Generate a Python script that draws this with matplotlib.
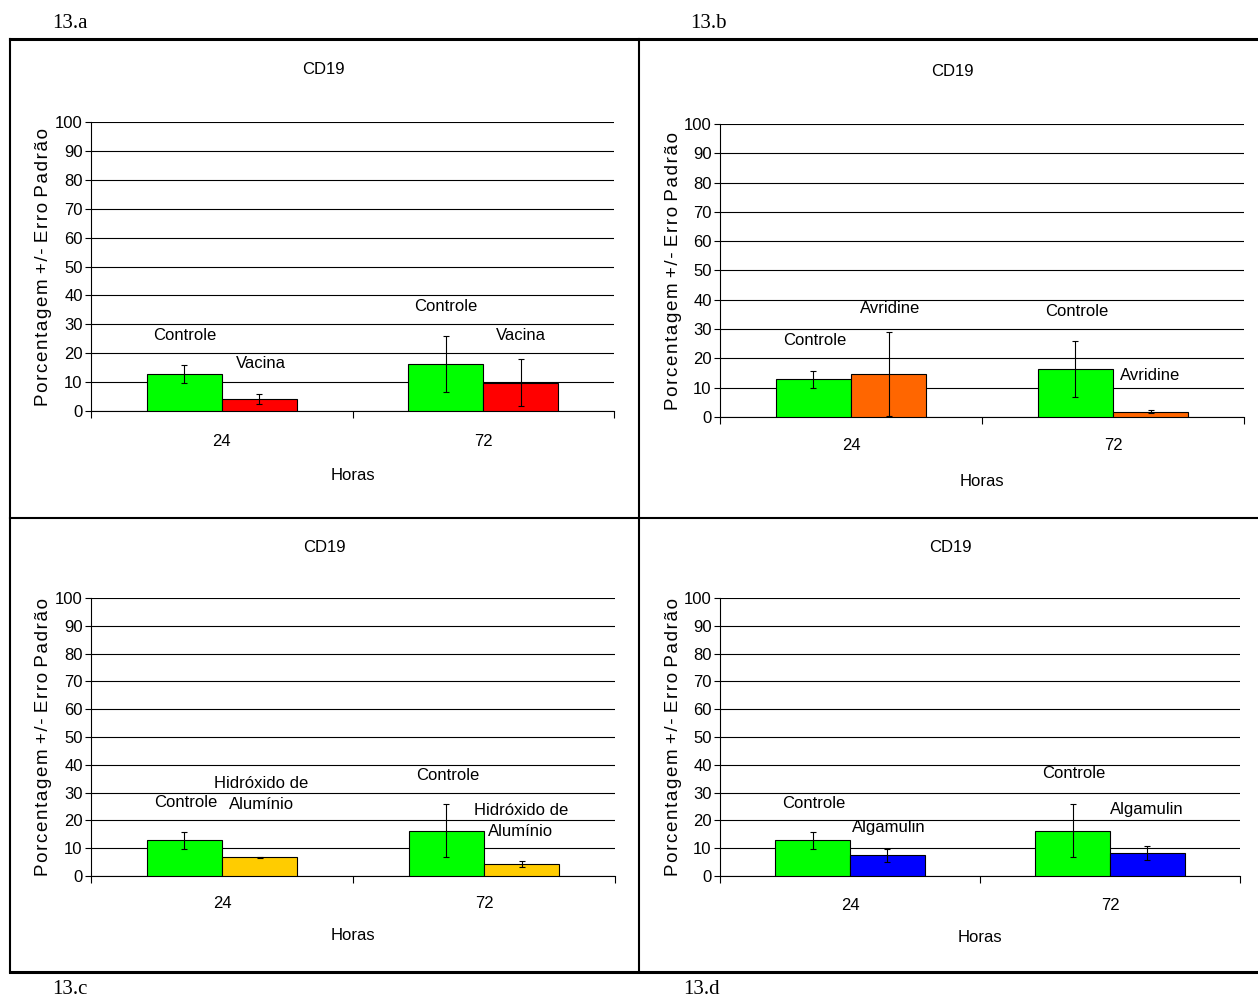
import matplotlib
matplotlib.use("Agg")
import matplotlib.pyplot as plt
from matplotlib.lines import Line2D

plt.rcParams['font.family'] = ['Liberation Sans', 'DejaVu Sans']

# Horas
horas = ['24', '72']

# Controle (same in all four panels)
controle = [12.8, 16.3]
controle_err = [3.0, 9.6]

# 13.a Vacina
vacina = [4.2, 9.8]
vacina_err = [1.8, 8.2]

# 13.b Avridine
avridine = [14.8, 1.8]
avridine_err = [14.3, 0.5]

# 13.c Hidroxido de Aluminio
hidroxido = [6.8, 4.3]
hidroxido_err = [0.2, 1.1]

# 13.d Algamulin
algamulin = [7.5, 8.3]
algamulin_err = [2.3, 2.5]

W, H = 1258, 1002
fig = plt.figure(figsize=(W / 100, H / 100), dpi=100)

BW = 0.287  # bar width in category units

# slightly letter-spaced y label (hair spaces between letters)
YLAB = ' '.join('\u200a'.join(w) for w in 'Porcentagem +/- Erro Padrão'.split(' '))


def px(x0, y0, x1, y1):
    # pixel box -> figure fraction rect
    return [x0 / W, 1 - y1 / H, (x1 - x0) / W, (y1 - y0) / H]


def panel(rect, vals, errs, color, name, lab_pos, title_pos, xlab_y, tick_y, ylab_x):
    ax = fig.add_axes(rect)
    x = [0, 1]
    ax.bar([i - BW / 2 for i in x], controle, BW, color='#00ff00',
           edgecolor='black', linewidth=0.8, zorder=3)
    ax.bar([i + BW / 2 for i in x], vals, BW, color=color,
           edgecolor='black', linewidth=0.8, zorder=3)
    ax.errorbar([i - BW / 2 for i in x], controle, yerr=controle_err, fmt='none',
                ecolor='black', elinewidth=0.8, capsize=2, capthick=0.8, zorder=4)
    ax.errorbar([i + BW / 2 for i in x], vals, yerr=errs, fmt='none',
                ecolor='black', elinewidth=0.8, capsize=2, capthick=0.8, zorder=4)
    ax.set_xlim(-0.5, 1.5)
    ax.set_ylim(0, 100)
    ax.set_yticks(range(0, 101, 10))
    ax.yaxis.grid(True, color='black', linewidth=0.8, zorder=0)
    ax.set_xticks([-0.5, 0.5, 1.5])
    ax.set_xticklabels([])
    ax.tick_params(axis='x', length=5, width=0.8, direction='out')
    ax.tick_params(axis='y', length=4, width=0.8, direction='out', labelsize=12, pad=2)
    for s in ['top', 'right']:
        ax.spines[s].set_visible(False)
    ax.spines['left'].set_linewidth(0.8)
    ax.spines['bottom'].set_linewidth(0.8)
    # category labels below the axis
    for i, h in enumerate(horas):
        ax.annotate(h, xy=(i, 0), xycoords='data', xytext=(0, -tick_y),
                    textcoords='offset pixels', ha='center', va='center', fontsize=12)
    ax.annotate('Horas', xy=(0.5, 0), xycoords='axes fraction', xytext=(0, -xlab_y),
                textcoords='offset pixels', ha='center', va='center', fontsize=12)
    fig.text(title_pos[0] / W, 1 - title_pos[1] / H, 'CD19',
             ha='center', va='center', fontsize=12)
    ax.annotate(YLAB, xy=(0, 0.5), xycoords='axes fraction',
                xytext=(-ylab_x, 0), textcoords='offset pixels',
                ha='center', va='center', rotation=90, fontsize=13.5)
    # series labels
    for (lx, ly), txt in zip(lab_pos, ['Controle', name, 'Controle', name]):
        ax.text(lx, ly, txt, ha='center', va='center', fontsize=12,
                linespacing=1.5, zorder=5)
    return ax


panel(px(91, 122, 614, 411), vacina, vacina_err, '#ff0000', 'Vacina',
      [(-0.14, 26), (0.15, 16.6), (0.855, 36.3), (1.145, 26)],
      (323, 70), 64, 30, 47)
panel(px(720, 124, 1244, 417), avridine, avridine_err, '#ff6600', 'Avridine',
      [(-0.14, 26), (0.15, 37), (0.86, 36), (1.14, 14)],
      (952, 71), 64, 29, 47)
panel(px(91, 598, 615, 876), hidroxido, hidroxido_err, '#ffcc00', 'Hidróxido de\nAlumínio',
      [(-0.14, 26.5), (0.15, 29.5), (0.86, 36), (1.14, 19.8)],
      (324, 547), 60, 28, 47)
panel(px(720, 598, 1240, 876), algamulin, algamulin_err, '#0000ff', 'Algamulin',
      [(-0.14, 26), (0.15, 17.6), (0.86, 36.7), (1.14, 24)],
      (950, 548), 61, 29, 47)


# outer frame around the four panels
def fline(xs, ys, lw):
    fig.add_artist(Line2D([v / W for v in xs], [1 - v / H for v in ys],
                          color='black', linewidth=lw, transform=fig.transFigure))


fline([10, 1258], [39, 39], 2.2)
fline([10, 1258], [972, 972], 2.2)
fline([10, 10], [39, 972], 1.5)
fline([639, 639], [39, 972], 1.5)
fline([10, 1258], [518, 518], 1.5)

for txt, xx, yy in [('13.a', 52, 23), ('13.b', 690, 23), ('13.c', 52, 989), ('13.d', 683, 989)]:
    fig.text(xx / W, 1 - yy / H, txt, family='Liberation Serif', fontsize=15,
             ha='left', va='center')

fig.savefig('out.png', dpi=100)
